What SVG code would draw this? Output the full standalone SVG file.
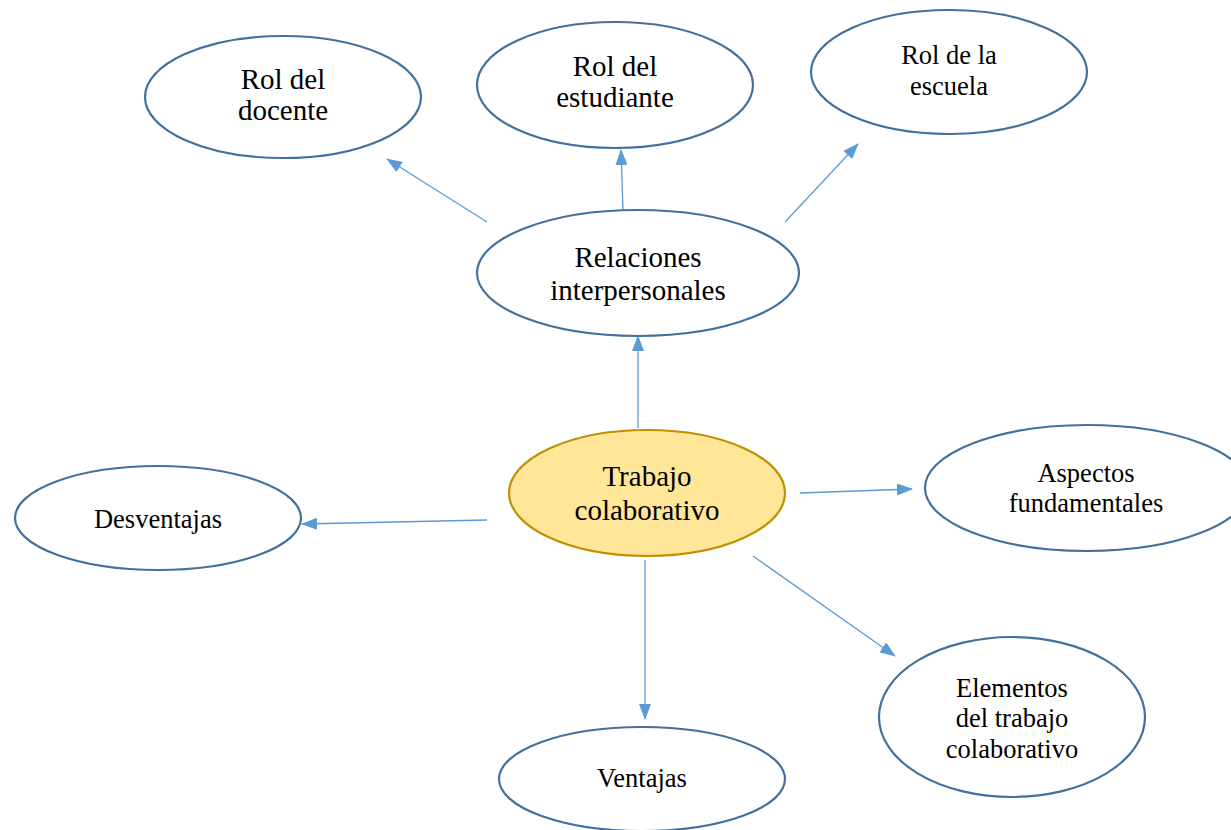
<svg xmlns="http://www.w3.org/2000/svg" width="1231" height="830" viewBox="0 0 1231 830">
<defs>
<style>
.node ellipse{fill:#fff;stroke:#41719C;stroke-width:2.2}
.node.main ellipse{fill:#FFE699;stroke:#BF9000}
text{font-family:"Liberation Serif","Times New Roman",serif;fill:#000;text-anchor:middle}
.big{font-size:29px}
.small{font-size:26.5px}
.conn line{stroke:#5B9BD5;stroke-width:1.3;fill:none}
</style>
<marker id="ah" viewBox="0 0 16 12" refX="15" refY="6" markerWidth="16" markerHeight="12" markerUnits="userSpaceOnUse" orient="auto">
<path d="M0,0 L16,6 L0,12 Z" fill="#5B9BD5"/>
</marker>
</defs>
<rect width="1231" height="830" fill="#fff"/>
<g id="connectors" class="conn">
<line x1="487" y1="222" x2="387" y2="159" marker-end="url(#ah)"/>
<line x1="623" y1="210" x2="621" y2="150" marker-end="url(#ah)"/>
<line x1="785" y1="222" x2="858" y2="144" marker-end="url(#ah)"/>
<line x1="638" y1="428" x2="638" y2="336" marker-end="url(#ah)"/>
<line x1="487" y1="520" x2="302" y2="524" marker-end="url(#ah)"/>
<line x1="800" y1="493" x2="912" y2="489" marker-end="url(#ah)"/>
<line x1="753" y1="556" x2="895" y2="656" marker-end="url(#ah)"/>
<line x1="645" y1="560" x2="645" y2="719" marker-end="url(#ah)"/>
</g>
<g id="rol-docente" class="node">
<ellipse cx="283" cy="97" rx="138" ry="61"/>
<text class="big" x="283" y="89">Rol del</text>
<text class="big" x="283" y="120">docente</text>
</g>
<g id="rol-estudiante" class="node">
<ellipse cx="615" cy="85" rx="138" ry="63"/>
<text class="big" x="615" y="76">Rol del</text>
<text class="big" x="615" y="107">estudiante</text>
</g>
<g id="rol-escuela" class="node">
<ellipse cx="949" cy="72" rx="138" ry="62"/>
<text class="small" x="949" y="64">Rol de la</text>
<text class="small" x="949" y="95">escuela</text>
</g>
<g id="relaciones" class="node">
<ellipse cx="638" cy="273" rx="161" ry="63"/>
<text class="big" x="638" y="267">Relaciones</text>
<text class="big" x="638" y="300">interpersonales</text>
</g>
<g id="trabajo" class="node main">
<ellipse cx="647" cy="493" rx="138" ry="63"/>
<text class="big" x="647" y="486">Trabajo</text>
<text class="big" x="647" y="520">colaborativo</text>
</g>
<g id="desventajas" class="node">
<ellipse cx="158" cy="518" rx="143" ry="52"/>
<text class="small" x="158" y="528">Desventajas</text>
</g>
<g id="aspectos" class="node">
<ellipse cx="1087" cy="488" rx="162" ry="63"/>
<text class="small" x="1086" y="482">Aspectos</text>
<text class="small" x="1086" y="512">fundamentales</text>
</g>
<g id="elementos" class="node">
<ellipse cx="1012" cy="717" rx="133" ry="80"/>
<text class="small" x="1012" y="697">Elementos</text>
<text class="small" x="1012" y="727">del trabajo</text>
<text class="small" x="1012" y="758">colaborativo</text>
</g>
<g id="ventajas" class="node">
<ellipse cx="642" cy="779" rx="143" ry="52"/>
<text class="small" x="642" y="787">Ventajas</text>
</g>
</svg>
